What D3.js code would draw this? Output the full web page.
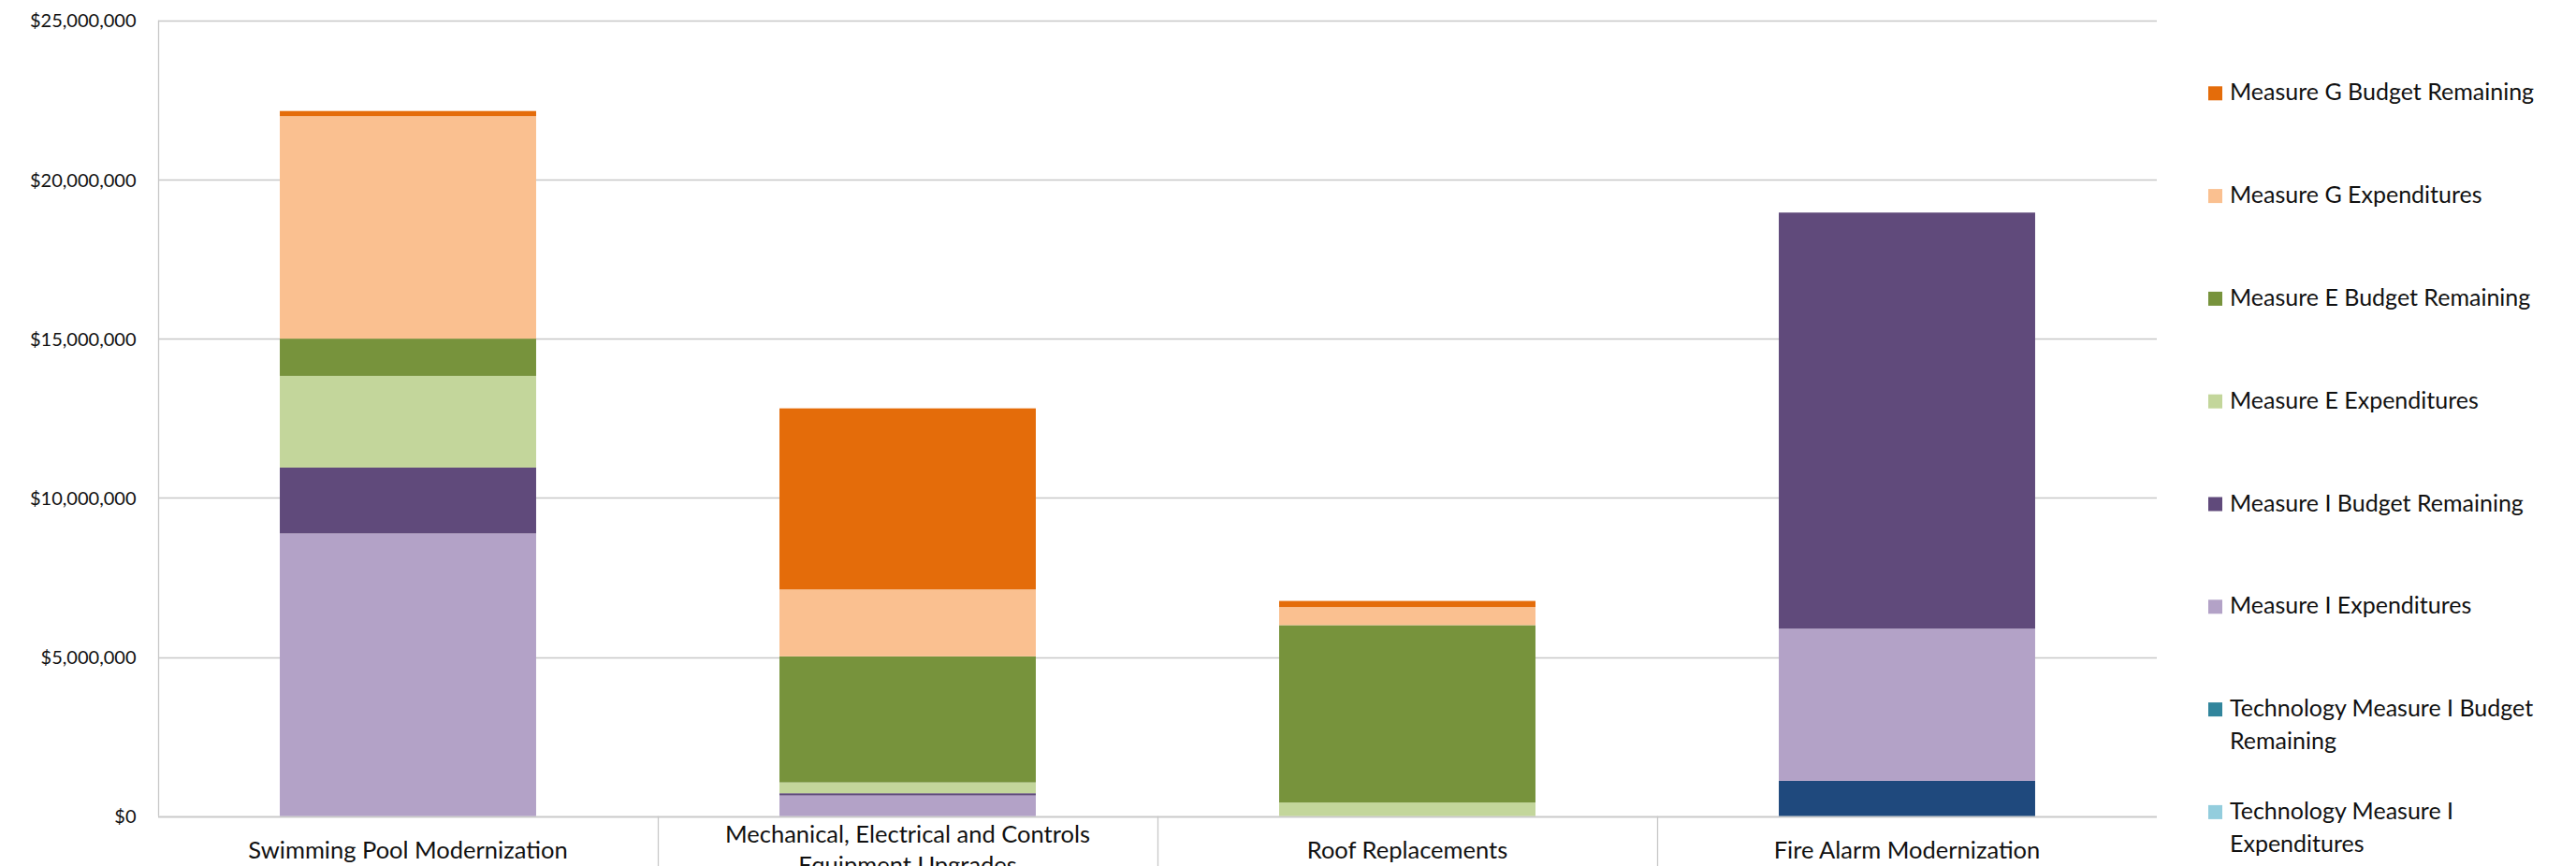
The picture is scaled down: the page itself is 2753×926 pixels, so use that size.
<!DOCTYPE html>
<html>
<head>
<meta charset="utf-8">
<script src="https://cdn.jsdelivr.net/npm/d3@7"></script>
<style>
  body { margin: 0; background: white; overflow: hidden; }
  svg { display: block; font-family: Lato, "Open Sans", sans-serif; }
</style>
</head>
<body>
<svg id="chart"></svg>
<script>
// categories on the x axis
var categories = [
  "Swimming Pool Modernization",
  "Mechanical, Electrical and Controls Equipment Upgrades",
  "Roof Replacements",
  "Fire Alarm Modernization"
];

// series, bottom of the stack first
var seriesNames = [
  "Other Funding Sources",
  "Technology Measure I Expenditures",
  "Technology Measure I Budget Remaining",
  "Measure I Expenditures",
  "Measure I Budget Remaining",
  "Measure E Expenditures",
  "Measure E Budget Remaining",
  "Measure G Expenditures",
  "Measure G Budget Remaining"
];

var seriesColors = [
  "#1f497d", "#93cddd", "#31859c", "#b3a2c7", "#604a7b",
  "#c3d69b", "#77933c", "#fac090", "#e46c0a"
];

// values per series, one per category (dollars)
var otherFunding         = [0, 0, 0, 1110000];
var techIExpenditures    = [0, 0, 0, 0];
var techIRemaining       = [0, 0, 0, 0];
var measureIExpenditures = [8880000, 650000, 0, 4780000];
var measureIRemaining    = [2070000, 70000, 0, 13070000];
var measureEExpenditures = [2880000, 340000, 430000, 0];
var measureERemaining    = [1170000, 3960000, 5570000, 0];
var measureGExpenditures = [6990000, 2100000, 570000, 0];
var measureGRemaining    = [160000, 5690000, 190000, 0];

var yTicks = [0, 5000000, 10000000, 15000000, 20000000, 25000000];

var seriesValues = [
  otherFunding, techIExpenditures, techIRemaining,
  measureIExpenditures, measureIRemaining,
  measureEExpenditures, measureERemaining,
  measureGExpenditures, measureGRemaining
];

var width = 2753, height = 926;
var plot = { left: 169, right: 2305, top: 21.7, bottom: 872.7 };

var svg = d3.select("#chart")
  .attr("width", width)
  .attr("height", height)
  .attr("viewBox", "0 0 " + width + " " + height);

svg.append("rect")
  .attr("width", width)
  .attr("height", height)
  .style("fill", "white");

var rows = categories.map(function(c, i) {
  var row = { category: c };
  seriesNames.forEach(function(s, j) { row[s] = seriesValues[j][i]; });
  return row;
});

var stacked = d3.stack().keys(seriesNames)(rows);

var x = d3.scaleBand()
  .domain(categories)
  .range([plot.left, plot.right])
  .padding(0);

var barWidth = x.bandwidth() * 0.513;

var y = d3.scaleLinear()
  .domain([0, 25000000])
  .range([plot.bottom, plot.top]);

var color = d3.scaleOrdinal().domain(seriesNames).range(seriesColors);

// gridlines
svg.append("g")
  .attr("class", "grid")
  .selectAll("line")
  .data(yTicks)
  .enter().append("line")
  .attr("x1", plot.left)
  .attr("x2", plot.right)
  .attr("y1", function(d) { return Math.round(y(d)) + 0.5; })
  .attr("y2", function(d) { return Math.round(y(d)) + 0.5; })
  .attr("stroke", "#c8c8c8")
  .attr("stroke-width", 1.3);

// y axis line
svg.append("line")
  .attr("x1", plot.left + 0.5)
  .attr("x2", plot.left + 0.5)
  .attr("y1", y(25000000))
  .attr("y2", y(0))
  .attr("stroke", "#c8c8c8")
  .attr("stroke-width", 1.3);

// y tick labels
var yAxis = d3.axisLeft(y)
  .tickValues(yTicks)
  .tickFormat(d3.format("$,.0f"))
  .tickSize(0)
  .tickPadding(23.5);

var gy = svg.append("g")
  .attr("transform", "translate(" + plot.left + ",0)")
  .call(yAxis);
gy.select(".domain").remove();
gy.selectAll("text")
  .attr("font-family", "Lato, sans-serif")
  .attr("font-size", 20)
  .attr("fill", "#111")
  .attr("dy", "0.36em");

// bars
var layer = svg.append("g")
  .selectAll("g")
  .data(stacked)
  .enter().append("g")
  .attr("fill", function(d) { return color(d.key); });

layer.selectAll("rect")
  .data(function(d) { return d; })
  .enter().append("rect")
  .attr("x", function(d) { return x(d.data.category) + (x.bandwidth() - barWidth) / 2; })
  .attr("width", barWidth)
  .attr("y", function(d) { return y(d[1]); })
  .attr("height", function(d) { return Math.max(0, y(d[0]) - y(d[1])); });

// x axis line and category dividers
svg.append("line")
  .attr("x1", plot.left)
  .attr("x2", plot.right)
  .attr("y1", Math.round(plot.bottom) + 0.5)
  .attr("y2", Math.round(plot.bottom) + 0.5)
  .attr("stroke", "#c8c8c8")
  .attr("stroke-width", 1.3);

svg.append("g")
  .selectAll("line")
  .data(categories.slice(1))
  .enter().append("line")
  .attr("x1", function(d) { return Math.round(x(d)) + 0.5; })
  .attr("x2", function(d) { return Math.round(x(d)) + 0.5; })
  .attr("y1", plot.bottom)
  .attr("y2", height)
  .attr("stroke", "#c8c8c8")
  .attr("stroke-width", 1.3);

// wrap words into lines no wider than maxWidth
function wrapWords(text, maxWidth, fontSize) {
  var probe = svg.append("text")
    .attr("font-size", fontSize)
    .attr("visibility", "hidden");
  var words = text.split(" ");
  var lines = [];
  var line = "";
  words.forEach(function(w) {
    var test = line ? line + " " + w : w;
    probe.text(test);
    if (line && probe.node().getComputedTextLength() > maxWidth) {
      lines.push(line);
      line = w;
    } else {
      line = test;
    }
  });
  lines.push(line);
  probe.remove();
  return lines;
}

// category labels, centered vertically in the label area
var catFont = 25.5;
var catLine = 33;
var catBase = 917.7;

categories.forEach(function(c) {
  var lines = wrapWords(c, 460, catFont);
  var t = svg.append("text")
    .attr("text-anchor", "middle")
    .attr("font-size", catFont)
    .attr("fill", "#111");
  lines.forEach(function(l, i) {
    t.append("tspan")
      .attr("x", x(c) + x.bandwidth() / 2)
      .attr("y", catBase + (i - (lines.length - 1) / 2) * catLine)
      .text(l);
  });
});

// legend, top entry is the top of the stack; entries past the bottom edge are clipped off
var legendNames = seriesNames.slice().reverse();
var legFont = 25;
var legStep = 109.8;
var legTop = 107.3;

var legend = svg.append("g")
  .selectAll("g")
  .data(legendNames.filter(function(d, i) { return legTop + i * legStep - 15 < height; }))
  .enter().append("g");

legend.append("rect")
  .attr("x", 2360)
  .attr("y", function(d, i) { return legTop + i * legStep - 15; })
  .attr("width", 15)
  .attr("height", 15)
  .attr("fill", function(d) { return color(d); });

legend.each(function(d, i) {
  var lines = wrapWords(d, 355, legFont);
  var t = d3.select(this).append("text")
    .attr("font-size", legFont)
    .attr("fill", "#111");
  lines.forEach(function(l, k) {
    t.append("tspan")
      .attr("x", 2383)
      .attr("y", legTop + i * legStep + k * 35)
      .text(l);
  });
});
</script>
</body>
</html>
